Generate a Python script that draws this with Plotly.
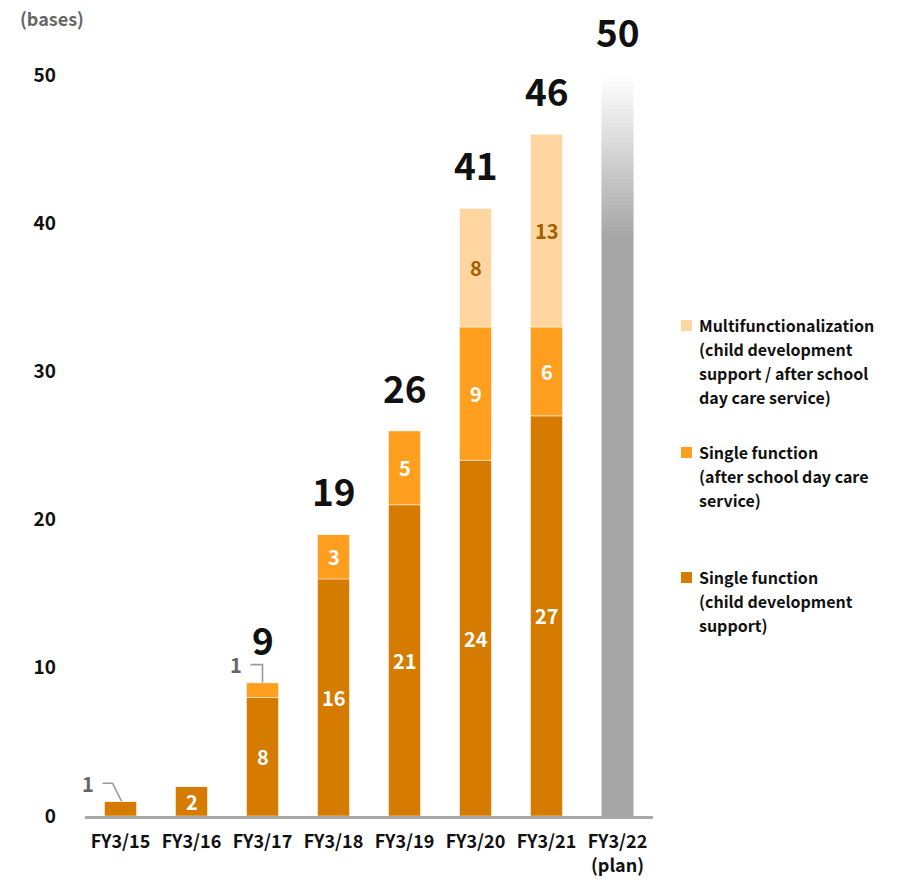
import plotly.graph_objects as go

# ---------------- data ----------------
categories = ["FY3/15", "FY3/16", "FY3/17", "FY3/18", "FY3/19", "FY3/20", "FY3/21", "FY3/22<br>(plan)"]
child_dev = [1, 2, 8, 16, 21, 24, 27, None]          # Single function (child development support)
after_school = [0, 0, 1, 3, 5, 9, 6, None]           # Single function (after school day care service)
multi = [0, 0, 0, 0, 0, 8, 13, None]                 # Multifunctionalization
plan_total = 50
plan_category = categories[-1]
y_ticks = [0, 10, 20, 30, 40, 50]

legend_items = [
    ("Multifunctionalization", "(child development", "support / after school", "day care service)"),
    ("Single function", "(after school day care", "service)"),
    ("Single function", "(child development", "support)"),
]

FONT = "Noto Sans CJK JP"
C_DARK = "#D57B00"
C_MID = "#FF9E1F"
C_LIGHT = "#FFD6A0"
C_GRAY = (166, 166, 166)

# geometry helpers (pixel -> paper)
L, R, T, B = 85, 244, 75, 66
W, H = 897, 882
PW, PH = W - L - R, H - T - B
def px_x(p):
    return (p - L) / PW
def px_y(p):
    return (H - B - p) / PH

n = len(categories) - 1
hist_cats = categories[:n]
cd = child_dev[:n]
af = after_school[:n]
mu = multi[:n]
base_af = cd
base_mu = [a + b for a, b in zip(cd, af)]
totals = [a + b + c for a, b, c in zip(cd, af, mu)]

fig = go.Figure()
bw = 0.45
line_style = dict(color="rgba(255,255,255,0.6)", width=0.8)

fig.add_trace(go.Bar(x=hist_cats, y=cd, width=bw, marker=dict(color=C_DARK, line=line_style),
                     showlegend=False, hoverinfo="skip"))
fig.add_trace(go.Bar(x=hist_cats, y=af, base=base_af, width=bw, marker=dict(color=C_MID, line=line_style),
                     showlegend=False, hoverinfo="skip"))
fig.add_trace(go.Bar(x=hist_cats, y=mu, base=base_mu, width=bw, marker=dict(color=C_LIGHT, line=line_style),
                     showlegend=False, hoverinfo="skip"))

# plan bar: solid lower part + vertical gradient to white
solid_frac = 0.78
nseg = 44
solid_top = plan_total * solid_frac
seg_h = (plan_total - solid_top) / nseg
gx, gy, gb, gc = [plan_category], [solid_top + seg_h * 0.5], [0], ["rgb(%d,%d,%d)" % C_GRAY]
for i in range(nseg):
    t = (i + 0.5) / nseg
    col = tuple(int(round(c + (255 - c) * t)) for c in C_GRAY)
    gx.append(plan_category)
    gb.append(solid_top + i * seg_h)
    gy.append(seg_h * 1.3 if i < nseg - 1 else seg_h)
    gc.append("rgb(%d,%d,%d)" % col)
fig.add_trace(go.Bar(x=gx, y=gy, base=gb, width=bw,
                     marker=dict(color=gc, line=dict(width=0)),
                     showlegend=False, hoverinfo="skip"))

annotations = []
# inside value labels
for vals, bases, color in [(cd, [0] * n, "white"), (af, base_af, "white"), (mu, base_mu, "#A35E00")]:
    for c, v, b in zip(hist_cats, vals, bases):
        if v >= 2:
            annotations.append(dict(x=c, y=b + v / 2, text=str(v), showarrow=False,
                                    xanchor="center", yanchor="middle",
                                    font=dict(family=FONT, size=20, color=color, weight="bold")))

# totals above bars
for c, t in zip(hist_cats[2:] + [plan_category], totals[2:] + [plan_total]):
    annotations.append(dict(x=c, y=t, text=str(t), showarrow=False, yanchor="middle", yshift=44,
                            font=dict(family=FONT, size=37, color="#111", weight="bold")))

# external "1" labels with leader lines
shapes = []
ext = [(0, cd[0], cd[0], -33, 18, "M -18,18 H -8 L 1,0"),
       (2, totals[2], af[2], -27, 18, "M -12,18 H 0 V 0")]
for idx, yv, val, dx, dy, path in ext:
    annotations.append(dict(x=hist_cats[idx], y=yv, text=str(val), showarrow=False,
                            xshift=dx, yshift=dy, xanchor="center", yanchor="middle",
                            font=dict(family=FONT, size=20, color="#666", weight="bold")))
    shapes.append(dict(type="path", xref="x", yref="y", xsizemode="pixel", ysizemode="pixel",
                       xanchor=hist_cats[idx], yanchor=yv, path=path,
                       line=dict(color="#9a9a9a", width=1.6)))

# unit label
annotations.append(dict(xref="paper", yref="paper", x=px_x(52), y=px_y(18), text="(bases)",
                        showarrow=False, xanchor="center", yanchor="middle",
                        font=dict(family=FONT, size=18, color="#666", weight="bold")))

# legend (manual)
legend_colors = [C_LIGHT, C_MID, C_DARK]
legend_first_line = [325, 452, 577]
line_h = 24
for (lines, col, y0) in zip(legend_items, legend_colors, legend_first_line):
    shapes.append(dict(type="rect", xref="paper", yref="paper",
                       x0=px_x(681), x1=px_x(692), y0=px_y(y0 + 6), y1=px_y(y0 - 5),
                       fillcolor=col, line=dict(width=0)))
    for k, ln in enumerate(lines):
        annotations.append(dict(xref="paper", yref="paper", x=px_x(697), y=px_y(y0 + k * line_h),
                                text=ln, showarrow=False, xanchor="left", yanchor="middle",
                                font=dict(family=FONT, size=16, color="#111", weight="bold")))

fig.update_layout(
    width=W, height=H, margin=dict(l=L, r=R, t=T, b=B, autoexpand=False),
    barmode="overlay", bargap=0.55,
    plot_bgcolor="white", paper_bgcolor="white",
    annotations=annotations, shapes=shapes,
    xaxis=dict(categoryorder="array", categoryarray=categories, type="category",
               range=[-0.5, len(categories) - 0.5],
               showgrid=False, showline=True, linecolor="#aaaaaa", linewidth=2.5,
               ticks="", ticklabelstandoff=8, automargin=False,
               tickfont=dict(family=FONT, size=18, color="#111", weight="bold")),
    yaxis=dict(range=[0, 50], tickvals=y_ticks, showgrid=False, zeroline=False, showline=False,
               ticks="", ticklabelstandoff=28, automargin=False,
               tickfont=dict(family=FONT, size=19, color="#111", weight="bold")),
    showlegend=False,
)

fig.write_html("out.html")
